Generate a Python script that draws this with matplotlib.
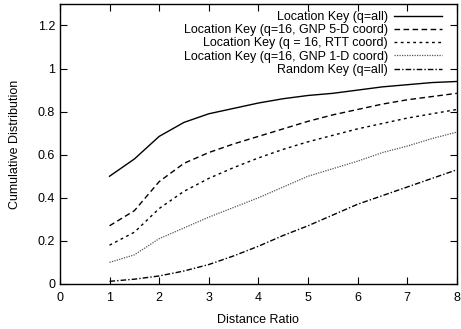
import matplotlib
matplotlib.use("Agg")
import matplotlib.pyplot as plt

plt.rcParams['font.family'] = ['Liberation Sans', 'DejaVu Sans']

# distance ratio samples
ratio = [1, 1.5, 2, 2.5, 3, 3.5, 4, 4.5, 5, 5.5, 6, 6.5, 7, 7.5, 8]

loc_all = [0.50, 0.58, 0.685, 0.75, 0.79, 0.815, 0.84, 0.86, 0.875, 0.885, 0.90, 0.915, 0.925, 0.935, 0.94]
loc_gnp5 = [0.27, 0.34, 0.475, 0.56, 0.61, 0.65, 0.685, 0.72, 0.755, 0.785, 0.81, 0.835, 0.855, 0.87, 0.885]
loc_rtt = [0.18, 0.24, 0.35, 0.43, 0.49, 0.54, 0.585, 0.625, 0.66, 0.69, 0.72, 0.745, 0.77, 0.79, 0.81]
loc_gnp1 = [0.10, 0.135, 0.21, 0.26, 0.31, 0.355, 0.40, 0.45, 0.50, 0.535, 0.57, 0.61, 0.64, 0.675, 0.705]
rand_all = [0.012, 0.022, 0.037, 0.06, 0.09, 0.13, 0.175, 0.225, 0.27, 0.32, 0.37, 0.41, 0.45, 0.49, 0.53]

labels = ["Location Key (q=all)",
          "Location Key (q=16, GNP 5-D coord)",
          "Location Key (q = 16, RTT coord)",
          "Location Key (q=16, GNP 1-D coord)",
          "Random Key (q=all)"]

xticks = [0, 1, 2, 3, 4, 5, 6, 7, 8]
yticks = [0, 0.2, 0.4, 0.6, 0.8, 1.0, 1.2]
ytick_labels = ["0", "0.2", "0.4", "0.6", "0.8", "1", "1.2"]

fig = plt.figure(figsize=(4.61, 3.29), dpi=100)
ax = fig.add_axes([0.130, 0.137, 0.861, 0.851])

ax.plot(ratio, loc_all, color='black', lw=1.0, linestyle='-', label=labels[0])
ax.plot(ratio, loc_gnp5, color='black', lw=1.0, linestyle=(0, (4, 2.5)), label=labels[1])
ax.plot(ratio, loc_rtt, color='black', lw=1.0, linestyle=(0, (2, 2.5)), label=labels[2])
ax.plot(ratio, loc_gnp1, color='#555555', lw=0.9, linestyle=(0, (1, 1)), label=labels[3])
ax.plot(ratio, rand_all, color='black', lw=1.0, linestyle=(0, (4, 1.5, 1, 1.5)), label=labels[4])

ax.set_xlim(0, 8)
ax.set_ylim(0, 1.3)
ax.set_xticks(xticks)
ax.set_yticks(yticks)
ax.set_yticklabels(ytick_labels)
ax.tick_params(direction='in', top=True, right=True, length=5, width=0.8, labelsize=9)
ax.tick_params(axis='x', pad=6)
for s in ax.spines.values():
    s.set_linewidth(1.0)

ax.set_xlabel("Distance Ratio", fontsize=9, labelpad=7)
ax.set_ylabel("Cumulative Distribution", fontsize=9, labelpad=12)

leg = ax.legend(loc='upper right', bbox_to_anchor=(0.962, 0.975), frameon=False,
                markerfirst=False, fontsize=9, handlelength=3.8, handletextpad=0.5,
                labelspacing=0.1, borderpad=0, borderaxespad=0)

fig.savefig("out.png", dpi=100)
